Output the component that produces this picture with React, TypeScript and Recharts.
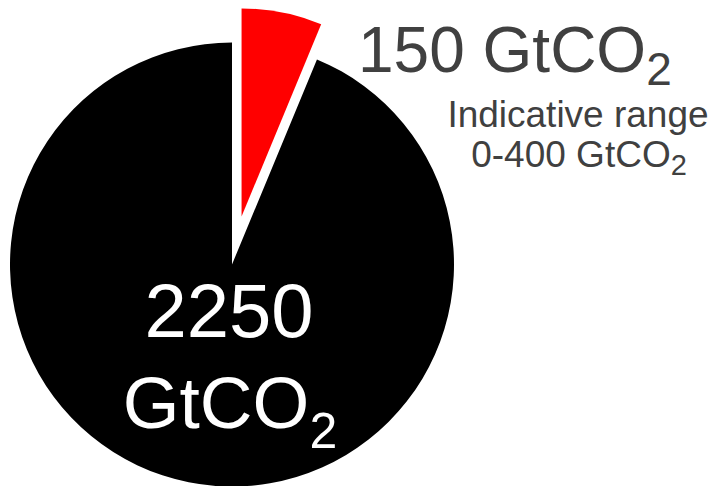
import React from 'react';
import { PieChart, Pie, Cell, Label } from 'recharts';

const categories = ['Remaining', 'Budget'];
const values = [150, 2250];
const colors = ['#ff0000', '#000000'];
const rangeLabel = ['Indicative range', '0-400'];
const unit = 'GtCO';

const data = categories.map((name, i) => ({ name, value: values[i] }));

const W = 713;
const H = 486;
const cx = 232;
const cy = 264.5;
const R = 222;
const explode = 49;

// exploded slice sits out along its mid angle
const total = values.reduce((a, b) => a + b, 0);
const sweep = (values[0] / total) * 360;
const mid = ((90 - sweep / 2) * Math.PI) / 180;
const rcx = cx + explode * Math.cos(mid);
const rcy = cy - explode * Math.sin(mid);

const font = '"Liberation Sans", Arial, sans-serif';

const BigLabel = () => (
  <g>
    <text x={229} y={337} fontFamily={font} fontSize={76} fill="#ffffff" textAnchor="middle">
      {values[1]}
    </text>
    <text x={230} y={428} fontFamily={font} fontSize={73} fill="#ffffff" textAnchor="middle">
      {unit}
      <tspan fontSize={50} dy={20}>2</tspan>
    </text>
  </g>
);

const App = () => (
  <div style={{ width: W, height: H }}>
    <style>{'body{margin:0}'}</style>
    <PieChart width={W} height={H} margin={{ top: 0, right: 0, bottom: 0, left: 0 }}>
      <Pie
        data={data}
        dataKey="value"
        cx={cx}
        cy={cy}
        outerRadius={R}
        startAngle={90}
        endAngle={-270}
        stroke="none"
        isAnimationActive={false}
      >
        {data.map((d, i) => (
          <Cell key={d.name} fill={i === 1 ? colors[i] : 'transparent'} />
        ))}
        <Label position="center" content={BigLabel} />
      </Pie>
      <Pie
        data={data}
        dataKey="value"
        cx={rcx}
        cy={rcy}
        outerRadius={208}
        startAngle={90}
        endAngle={-270}
        stroke="none"
        isAnimationActive={false}
      >
        {data.map((d, i) => (
          <Cell key={d.name} fill={i === 0 ? colors[i] : 'transparent'} />
        ))}
      </Pie>

      <text x={358} y={72} fontFamily={font} fontSize={64} fill="#404040">
        {`${values[0]} ${unit}`}
        <tspan fontSize={46} dy={13}>2</tspan>
      </text>
      <text x={578} y={127} fontFamily={font} fontSize={37} fill="#404040" textAnchor="middle">
        {rangeLabel[0]}
      </text>
      <text x={579} y={167} fontFamily={font} fontSize={37} fill="#404040" textAnchor="middle">
        {`${rangeLabel[1]} ${unit}`}
        <tspan fontSize={29} dy={8}>2</tspan>
      </text>
    </PieChart>
  </div>
);

export default App;
